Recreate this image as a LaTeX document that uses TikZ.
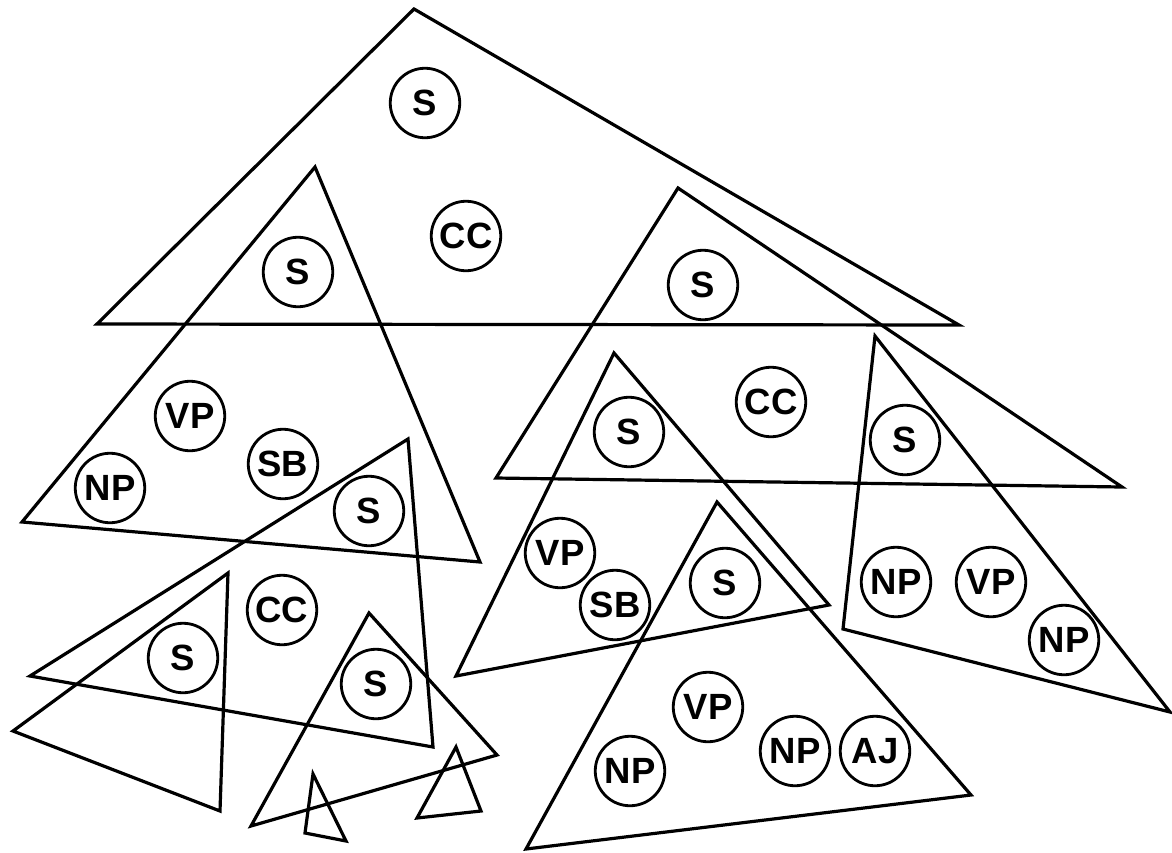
\documentclass[tikz,border=0pt]{standalone}
\usepackage{fontspec}
\setmainfont{Liberation Sans}
\begin{document}
\begin{tikzpicture}[x=1pt,y=-1pt,
  tri/.style={draw=black,line width=3.2pt,line join=miter},
  cat/.style={circle,draw=black,line width=2.8pt,minimum size=69.5pt,inner sep=0pt,
    font=\fontsize{36.5}{36.5}\selectfont\bfseries}]
\useasboundingbox (0,0) rectangle (1172,852);
% triangles
\draw[tri] (414,9) -- (97,324) -- (959,325) -- cycle;
\draw[tri] (315,167) -- (22,522) -- (480,562) -- cycle;
\draw[tri] (678,188) -- (496,478) -- (1122,487) -- cycle;
\draw[tri] (408,439) -- (30,676) -- (433,747) -- cycle;
\draw[tri] (228,573) -- (13,731) -- (220,811) -- cycle;
\draw[tri] (369,613) -- (251,826) -- (497,755) -- cycle;
\draw[tri] (313,774) -- (305,833) -- (346,841) -- cycle;
\draw[tri] (456,747) -- (417,818) -- (481,811) -- cycle;
\draw[tri] (614,353) -- (456,676) -- (829,605) -- cycle;
\draw[tri] (875,336) -- (843,629) -- (1170,712) -- cycle;
\draw[tri] (717,502) -- (526,849) -- (971,795) -- cycle;
% category circles
\node[cat] (s1) at (425,103) {S};
\node[cat] (cc1) at (466,236) {CC};
\node[cat] (s2) at (298,272) {S};
\node[cat] (s3) at (703,285) {S};
\node[cat] (vp1) at (190,416) {VP};
\node[cat] (np1) at (110,488) {NP};
\node[cat] (sb1) at (283,464) {SB};
\node[cat] (s4) at (369,511) {S};
\node[cat] (cc2) at (771,402) {CC};
\node[cat] (s5) at (629,432) {S};
\node[cat] (s6) at (905,440) {S};
\node[cat] (cc3) at (282,610) {CC};
\node[cat] (s7) at (183,658) {S};
\node[cat] (s8) at (376,684) {S};
\node[cat] (vp2) at (560,553) {VP};
\node[cat] (sb2) at (615,605) {SB};
\node[cat] (s9) at (725,583) {S};
\node[cat] (np2) at (896,582) {NP};
\node[cat] (vp3) at (991,582) {VP};
\node[cat] (np3) at (1064,640) {NP};
\node[cat] (vp4) at (708,707) {VP};
\node[cat] (np4) at (630,771) {NP};
\node[cat] (np5) at (795,751) {NP};
\node[cat] (aj) at (875,751) {AJ};
\end{tikzpicture}
\end{document}
